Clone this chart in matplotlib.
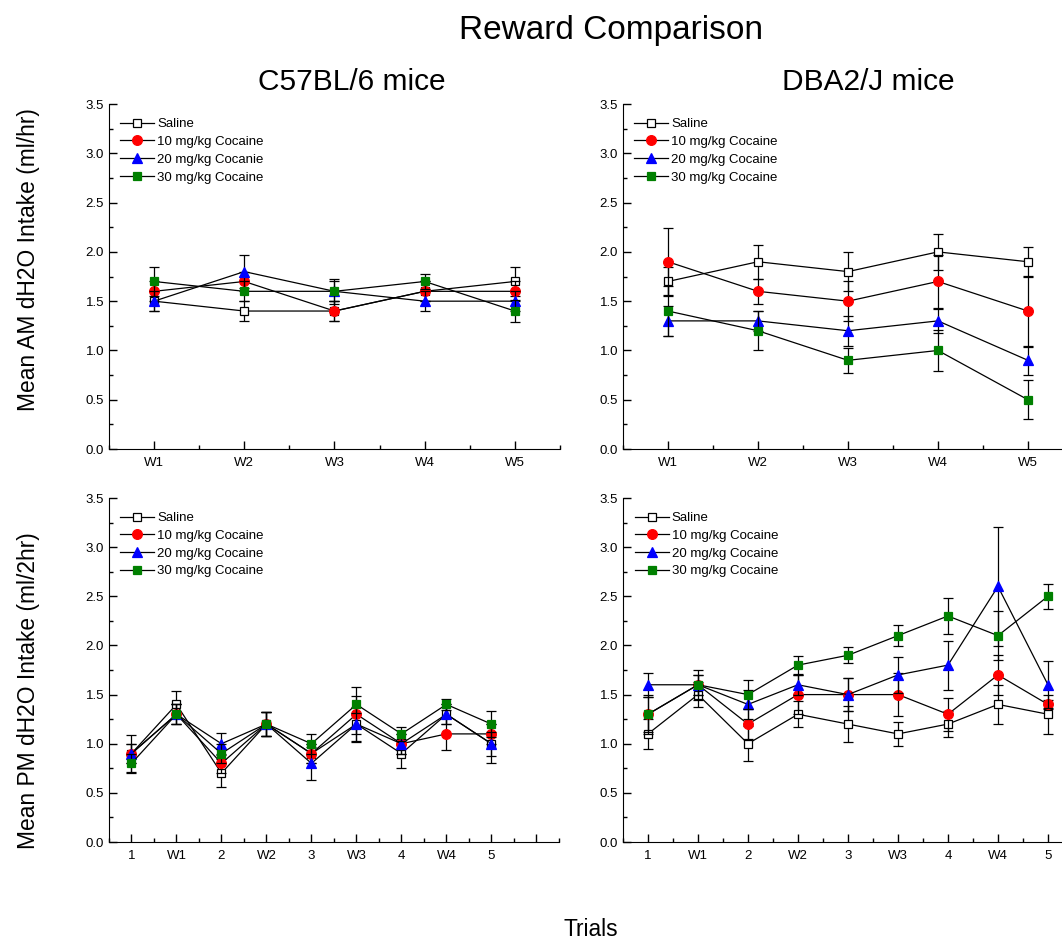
import matplotlib
matplotlib.use("Agg")
import matplotlib.pyplot as plt
from matplotlib.ticker import MultipleLocator

plt.rcParams['font.family'] = ['Liberation Sans', 'DejaVu Sans']

# --- data ---
weeks = ['W1', 'W2', 'W3', 'W4', 'W5']
trials = ['1', 'W1', '2', 'W2', '3', 'W3', '4', 'W4', '5']
labels_a = ['Saline', '10 mg/kg Cocaine', '20 mg/kg Cocanie', '30 mg/kg Cocaine']
labels_b = ['Saline', '10 mg/kg Cocaine', '20 mg/kg Cocaine', '30 mg/kg Cocaine']

# AM, C57BL/6
c57_am = [[1.5, 1.4, 1.4, 1.6, 1.7],
          [1.6, 1.7, 1.4, 1.6, 1.6],
          [1.5, 1.8, 1.6, 1.5, 1.5],
          [1.7, 1.6, 1.6, 1.7, 1.4]]
c57_am_err = [[0.1, 0.1, 0.1, 0.1, 0.15],
              [0.1, 0.1, 0.1, 0.1, 0.1],
              [0.1, 0.17, 0.1, 0.1, 0.1],
              [0.15, 0.1, 0.13, 0.08, 0.11]]

# AM, DBA2/J
dba_am = [[1.7, 1.9, 1.8, 2.0, 1.9],
          [1.9, 1.6, 1.5, 1.7, 1.4],
          [1.3, 1.3, 1.2, 1.3, 0.9],
          [1.4, 1.2, 0.9, 1.0, 0.5]]
dba_am_err = [[0.15, 0.17, 0.2, 0.18, 0.15],
              [0.34, 0.13, 0.2, 0.27, 0.36],
              [0.15, 0.1, 0.15, 0.12, 0.15],
              [0.25, 0.2, 0.13, 0.21, 0.2]]

# PM, C57BL/6
c57_pm = [[0.9, 1.4, 0.7, 1.2, 0.9, 1.2, 0.9, 1.3, 1.0],
          [0.9, 1.3, 0.8, 1.2, 0.9, 1.3, 1.0, 1.1, 1.1],
          [0.9, 1.3, 1.0, 1.2, 0.8, 1.2, 1.0, 1.3, 1.0],
          [0.8, 1.3, 0.9, 1.2, 1.0, 1.4, 1.1, 1.4, 1.2]]
c57_pm_err = [[0.19, 0.14, 0.14, 0.12, 0.1, 0.1, 0.15, 0.1, 0.2],
              [0.1, 0.1, 0.1, 0.12, 0.1, 0.28, 0.1, 0.16, 0.1],
              [0.1, 0.1, 0.11, 0.12, 0.17, 0.17, 0.1, 0.1, 0.12],
              [0.1, 0.1, 0.1, 0.12, 0.1, 0.09, 0.07, 0.06, 0.13]]

# PM, DBA2/J
dba_pm = [[1.1, 1.5, 1.0, 1.3, 1.2, 1.1, 1.2, 1.4, 1.3],
          [1.3, 1.6, 1.2, 1.5, 1.5, 1.5, 1.3, 1.7, 1.4],
          [1.6, 1.6, 1.4, 1.6, 1.5, 1.7, 1.8, 2.6, 1.6],
          [1.3, 1.6, 1.5, 1.8, 1.9, 2.1, 2.3, 2.1, 2.5]]
dba_pm_err = [[0.15, 0.13, 0.18, 0.13, 0.18, 0.12, 0.13, 0.2, 0.2],
              [0.2, 0.15, 0.15, 0.2, 0.17, 0.22, 0.17, 0.2, 0.05],
              [0.12, 0.1, 0.15, 0.1, 0.17, 0.18, 0.25, 0.61, 0.24],
              [0.18, 0.1, 0.15, 0.09, 0.08, 0.11, 0.18, 0.25, 0.13]]

colors = ['white', 'red', 'blue', 'green']
markers = ['s', 'o', '^', 's']
msizes = [6, 7, 7, 6]

fig = plt.figure(figsize=(10.62, 9.39), dpi=100)
ax1 = fig.add_axes([0.1026, 0.5218, 0.4247, 0.3674])
ax2 = fig.add_axes([0.5866, 0.5218, 0.4237, 0.3674])
ax3 = fig.add_axes([0.1026, 0.1033, 0.4237, 0.3663])
ax4 = fig.add_axes([0.5866, 0.1033, 0.4708, 0.3663])


def draw(ax, ticks, data, errs, labels, xmax):
    x = list(range(1, len(ticks) + 1))
    handles = []
    for i in range(4):
        c = ax.errorbar(x, data[i], yerr=errs[i], color='black', lw=0.9,
                        elinewidth=0.9, capsize=3.5, capthick=0.9,
                        marker=markers[i], ms=msizes[i], mfc=colors[i],
                        mec='black' if i == 0 else colors[i], mew=0.9,
                        label=labels[i], zorder=3 + i)
        handles.append(c[0])
    ax.set_xlim(0.5, xmax)
    ax.set_ylim(0, 3.5)
    ax.set_xticks(range(1, int(xmax) + 1))
    ax.set_xticklabels(ticks + [''] * (int(xmax) - len(ticks)))
    ax.xaxis.set_minor_locator(MultipleLocator(0.5))
    ax.yaxis.set_major_locator(MultipleLocator(0.5))
    ax.yaxis.set_minor_locator(MultipleLocator(0.25))
    ax.yaxis.set_major_formatter(matplotlib.ticker.FormatStrFormatter('%.1f'))
    ax.spines['top'].set_visible(False)
    ax.spines['right'].set_visible(False)
    ax.tick_params(which='both', direction='in', labelsize=9.5, width=1)
    ax.tick_params(which='major', length=6)
    ax.tick_params(which='minor', length=3)
    ax.tick_params(axis='x', pad=6)
    ax.legend(handles=handles, labels=labels, loc='upper left',
              bbox_to_anchor=(0.013, 0.975), frameon=False, fontsize=9.5,
              handlelength=2.6, handletextpad=0.2, labelspacing=0.42,
              borderaxespad=0)


draw(ax1, weeks, c57_am, c57_am_err, labels_a, 5.5)
draw(ax2, weeks, dba_am, dba_am_err, labels_b, 5.5)
draw(ax3, trials, c57_pm, c57_pm_err, labels_b, 10.5)
draw(ax4, trials, dba_pm, dba_pm_err, labels_b, 10.5)

fig.text(0.575, 0.967, 'Reward Comparison', ha='center', va='center', fontsize=24)
fig.text(0.331, 0.913, 'C57BL/6 mice', ha='center', va='center', fontsize=21.5)
fig.text(0.818, 0.913, 'DBA2/J mice', ha='center', va='center', fontsize=21.5)
fig.text(0.027, 0.724, 'Mean AM dH2O Intake (ml/hr)', ha='center', va='center',
         rotation=90, fontsize=16.4)
fig.text(0.027, 0.265, 'Mean PM dH2O Intake (ml/2hr)', ha='center', va='center',
         rotation=90, fontsize=16.4)
fig.text(0.556, 0.01, 'Trials', ha='center', va='center', fontsize=16.4)

fig.savefig('out.png', dpi=100)
